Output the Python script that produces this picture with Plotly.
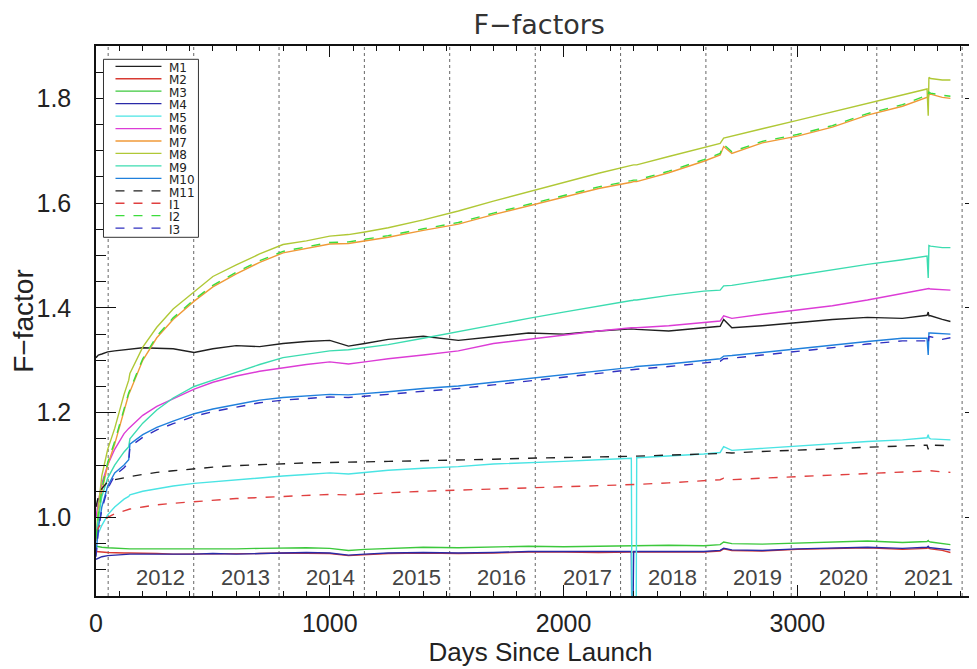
import plotly.graph_objects as go

# ---------------- data ----------------
days = [0, 10, 25, 50, 80, 120, 140, 145,
        200, 260, 330, 420, 500, 600, 700, 800, 900, 1000,
        1080, 1150, 1250, 1400, 1550, 1700, 1850, 2000, 2150,
        2290, 2294, 2300, 2310, 2313,
        2450, 2600, 2670, 2685, 2720, 2850, 3000, 3150, 3300, 3450,
        3555, 3560, 3563, 3570, 3620, 3655]

M1 = [1.305, 1.310, 1.312, 1.316, 1.318, 1.320, 1.322, 1.322,
      1.324, 1.323, 1.322, 1.315, 1.322, 1.328, 1.326, 1.332, 1.336, 1.338,
      1.327, 1.332, 1.340, 1.346, 1.338, 1.345, 1.352, 1.350, 1.356,
      1.360, 1.360, 1.360, 1.359, 1.359,
      1.356, 1.362, 1.365, 1.378, 1.362, 1.366, 1.372, 1.378, 1.382, 1.380,
      1.386, 1.392, 1.385, 1.385, 1.378, 1.374]
M2 = [0.935, 0.935, 0.934, 0.933, 0.932, 0.932, 0.932, 0.932,
      0.931, 0.931, 0.930, 0.930, 0.931, 0.930, 0.931, 0.932, 0.932, 0.931,
      0.927, 0.929, 0.931, 0.932, 0.931, 0.932, 0.934, 0.934, 0.933,
      0.934, 0.934, 0.934, 0.934, 0.934,
      0.935, 0.934, 0.936, 0.940, 0.937, 0.936, 0.939, 0.940, 0.942, 0.939,
      0.941, 0.943, 0.941, 0.940, 0.937, 0.933]
M3 = [0.945, 0.944, 0.943, 0.942, 0.941, 0.941, 0.940, 0.940,
      0.940, 0.940, 0.939, 0.939, 0.940, 0.940, 0.941, 0.942, 0.942, 0.941,
      0.937, 0.939, 0.941, 0.943, 0.942, 0.943, 0.945, 0.944, 0.945,
      0.946, 0.946, 0.946, 0.946, 0.946,
      0.947, 0.946, 0.948, 0.953, 0.950, 0.949, 0.951, 0.952, 0.955, 0.952,
      0.954, 0.956, 0.954, 0.953, 0.950, 0.948]
M4 = [0.920, 0.922, 0.925, 0.927, 0.928, 0.929, 0.929, 0.930,
      0.930, 0.930, 0.929, 0.930, 0.931, 0.930, 0.931, 0.932, 0.933, 0.932,
      0.928, 0.930, 0.932, 0.933, 0.932, 0.933, 0.935, 0.935, 0.935,
      0.935, 0.700, 0.935, 0.935, 0.935,
      0.936, 0.935, 0.937, 0.941, 0.938, 0.937, 0.940, 0.941, 0.943, 0.941,
      0.943, 0.945, 0.943, 0.942, 0.940, 0.938]
M5 = [0.955, 0.970, 0.985, 1.005, 1.020, 1.035, 1.040, 1.043,
      1.050, 1.055, 1.060, 1.065, 1.068, 1.072, 1.076, 1.079, 1.082, 1.085,
      1.083, 1.086, 1.090, 1.094, 1.097, 1.102, 1.104, 1.107, 1.110,
      1.113, 0.700, 0.700, 0.700, 1.114,
      1.117, 1.121, 1.124, 1.135, 1.128, 1.132, 1.136, 1.140, 1.145, 1.148,
      1.152, 1.158, 1.152, 1.150, 1.148, 1.148]
M6 = [1.000, 1.030, 1.065, 1.100, 1.130, 1.160, 1.170, 1.172,
      1.195, 1.212, 1.227, 1.245, 1.258, 1.270, 1.279, 1.286, 1.292, 1.297,
      1.293, 1.297, 1.303, 1.310, 1.318, 1.332, 1.340, 1.348, 1.356,
      1.362, 1.362, 1.362, 1.362, 1.362,
      1.366, 1.373, 1.375, 1.385, 1.380, 1.388, 1.396, 1.404, 1.415, 1.428,
      1.437, 1.438, 1.437, 1.436, 1.434, 1.434]
M7 = [0.955, 1.000, 1.050, 1.100, 1.140, 1.205, 1.235, 1.240,
      1.300, 1.343, 1.378, 1.413, 1.440, 1.465, 1.487, 1.505, 1.513, 1.522,
      1.523, 1.528, 1.535, 1.548, 1.560, 1.578, 1.595, 1.612, 1.628,
      1.640, 1.641, 1.641, 1.641, 1.641,
      1.658, 1.680, 1.692, 1.708, 1.695, 1.715, 1.728, 1.745, 1.768, 1.785,
      1.802, 1.800, 1.808, 1.808, 1.802, 1.800]
M8 = [0.960, 1.020, 1.080, 1.130, 1.170, 1.235, 1.262, 1.275,
      1.325, 1.363, 1.398, 1.430, 1.460, 1.482, 1.503, 1.521, 1.528, 1.537,
      1.540, 1.545, 1.553, 1.568, 1.585, 1.604, 1.622, 1.640, 1.657,
      1.672, 1.673, 1.673, 1.673, 1.673,
      1.689, 1.706, 1.714, 1.724, 1.728, 1.742, 1.758, 1.774, 1.790, 1.806,
      1.818, 1.767, 1.840, 1.838, 1.835, 1.835]
M9 = [0.960, 1.000, 1.040, 1.075, 1.100, 1.125, 1.135, 1.150,
      1.180, 1.205, 1.228, 1.250, 1.262, 1.277, 1.292, 1.305, 1.312, 1.318,
      1.320, 1.324, 1.330, 1.342, 1.355, 1.367, 1.380, 1.392, 1.404,
      1.414, 1.414, 1.415, 1.415, 1.415,
      1.424, 1.432, 1.434, 1.442, 1.443, 1.452, 1.463, 1.473, 1.483, 1.492,
      1.499, 1.457, 1.519, 1.518, 1.515, 1.515]
M10 = [0.930, 0.980, 1.020, 1.060, 1.085, 1.100, 1.110, 1.140,
       1.158, 1.172, 1.184, 1.198, 1.207, 1.216, 1.224, 1.229, 1.232, 1.235,
       1.234, 1.237, 1.240, 1.246, 1.251, 1.258, 1.265, 1.272, 1.280,
       1.287, 1.287, 1.287, 1.288, 1.288,
       1.293, 1.300, 1.303, 1.308, 1.309, 1.315, 1.322, 1.330, 1.336, 1.342,
       1.342, 1.310, 1.352, 1.352, 1.350, 1.350]
M11 = [1.020, 1.040, 1.055, 1.068, 1.072, 1.076, 1.078, 1.078,
       1.082, 1.086, 1.089, 1.093, 1.096, 1.099, 1.101, 1.103, 1.104, 1.105,
       1.105, 1.106, 1.107, 1.108, 1.110, 1.111, 1.113, 1.114, 1.116,
       1.117, 1.117, 1.117, 1.117, 1.117,
       1.119, 1.121, 1.122, 1.124, 1.123, 1.126, 1.128, 1.131, 1.134, 1.136,
       1.138, 1.130, 1.138, 1.138, 1.138, 1.137]
I1 = [0.970, 0.980, 0.990, 1.000, 1.007, 1.013, 1.015, 1.016,
      1.020, 1.024, 1.027, 1.030, 1.033, 1.036, 1.038, 1.040, 1.042, 1.044,
      1.043, 1.045, 1.047, 1.050, 1.052, 1.055, 1.056, 1.058, 1.061,
      1.063, 1.063, 1.063, 1.063, 1.063,
      1.066, 1.070, 1.072, 1.075, 1.072, 1.075, 1.078, 1.081, 1.085, 1.088,
      1.090, 1.090, 1.090, 1.089, 1.087, 1.086]
I2 = [0.960, 1.005, 1.055, 1.105, 1.145, 1.210, 1.238, 1.243,
      1.303, 1.346, 1.381, 1.416, 1.443, 1.468, 1.490, 1.508, 1.516, 1.525,
      1.526, 1.531, 1.538, 1.551, 1.563, 1.581, 1.598, 1.615, 1.631,
      1.643, 1.644, 1.644, 1.644, 1.644,
      1.661, 1.683, 1.695, 1.712, 1.698, 1.718, 1.731, 1.748, 1.771, 1.788,
      1.806, 1.804, 1.812, 1.810, 1.806, 1.804]
I3 = [0.925, 0.975, 1.015, 1.055, 1.080, 1.095, 1.105, 1.135,
      1.153, 1.167, 1.179, 1.193, 1.202, 1.211, 1.219, 1.224, 1.227, 1.230,
      1.229, 1.232, 1.235, 1.241, 1.246, 1.253, 1.260, 1.267, 1.275,
      1.282, 1.282, 1.282, 1.283, 1.283,
      1.288, 1.295, 1.298, 1.303, 1.304, 1.310, 1.317, 1.325, 1.331, 1.337,
      1.337, 1.330, 1.345, 1.345, 1.340, 1.343]

series_names = ["M1", "M2", "M3", "M4", "M5", "M6", "M7", "M8", "M9", "M10",
                "M11", "I1", "I2", "I3"]
series_values = [M1, M2, M3, M4, M5, M6, M7, M8, M9, M10, M11, I1, I2, I3]
series_colors = ["#202020", "#d83a32", "#3cc83c", "#2a2aa8", "#4ae4e4",
                 "#dc3cd6", "#f09a38", "#b0c836", "#3cdcb0", "#2080dc",
                 "#202020", "#e04040", "#3cdc3c", "#3030c0"]
series_dash = ["solid"] * 10 + ["dash"] * 4

year_starts = [52, 418, 783, 1148, 1513, 1879, 2244, 2609, 2974, 3340, 3705]
year_labels = ["2012", "2013", "2014", "2015", "2016", "2017", "2018",
               "2019", "2020", "2021"]

# ---------------- layout geometry ----------------
# the page body has an 8 px margin, so the figure starts at page (8, 8)
OFF = 8
W, H = 977, 669
PAGE_L, PAGE_T, PAGE_B = 95.5, 45.7, 595.7   # plot box in page pixels
ML = PAGE_L - OFF
MT = PAGE_T - OFF
MB = H - (PAGE_B - OFF)
MR = 0
PW, PH = W - ML - MR, H - MT - MB
X_MAX = PW / 0.2339
FONT = "Liberation Sans, Arial, sans-serif"
LEG_ROW = 12.45


def px(xp):
    """page x pixel -> paper fraction"""
    return (xp - PAGE_L) / PW


def py(yp):
    """page y pixel -> paper fraction"""
    return (PAGE_B - yp) / PH


fig = go.Figure()
for name, vals, color, dash in zip(series_names, series_values,
                                   series_colors, series_dash):
    fig.add_trace(go.Scatter(x=days, y=vals, mode="lines", name=name,
                             line=dict(color=color, width=1.4, dash=dash),
                             showlegend=False))

shapes = []
for d in year_starts:
    shapes.append(dict(type="line", xref="x", yref="paper", x0=d, x1=d,
                       y0=0, y1=1, layer="below",
                       line=dict(color="#666666", width=1, dash="dot")))

annotations = []
for lab, d in zip(year_labels, year_starts):
    annotations.append(dict(x=d + 222, y=0.885, xref="x", yref="y",
                            text=lab, showarrow=False,
                            font=dict(family=FONT, size=22, color="#444444")))

# compact legend box drawn in the IDL style
shapes.append(dict(type="rect", xref="paper", yref="paper",
                   x0=px(103), x1=px(198), y0=py(237), y1=py(59),
                   line=dict(color="#333333", width=1),
                   fillcolor="white", layer="above"))
for i, (color, dash) in enumerate(zip(series_colors, series_dash)):
    yy = 66 + LEG_ROW * i
    shapes.append(dict(type="line", xref="paper", yref="paper",
                       x0=px(115), x1=px(161), y0=py(yy), y1=py(yy),
                       layer="above",
                       line=dict(color=color, width=1.3, dash=dash)))
legend_text = "<br>".join('<span style="font-size:12px">%s</span>' % n
                          for n in series_names)
annotations.append(dict(x=px(167), y=py(66 - LEG_ROW / 2 - 1), xref="paper",
                        yref="paper", text=legend_text,
                        showarrow=False, xanchor="left", yanchor="top",
                        align="left",
                        font=dict(family="DejaVu Sans, sans-serif",
                                  size=LEG_ROW / 1.3, color="#222222")))

fig.update_layout(
    width=W, height=H,
    margin=dict(l=ML, r=MR, t=MT, b=MB, pad=0, autoexpand=False),
    paper_bgcolor="white", plot_bgcolor="white",
    title=dict(text="F\u2212factors", x=px(539), xref="paper",
               y=1 - (25 - OFF) / H, yref="container", xanchor="center",
               yanchor="middle",
               font=dict(family="DejaVu Sans, sans-serif", size=27,
                         color="#333333")),
    shapes=shapes, annotations=annotations,
    xaxis=dict(range=[0, X_MAX], showgrid=False, zeroline=False,
               automargin=False,
               showline=True, linecolor="#111111", linewidth=1.5,
               mirror="allticks", ticks="inside", ticklen=11, tickwidth=1,
               tickcolor="#111111", tick0=0, dtick=1000,
               minor=dict(dtick=100, ticklen=5, ticks="inside",
                          tickcolor="#111111", showgrid=False),
               tickfont=dict(family=FONT, size=25, color="#222222"),
               ticklabelstandoff=4,
               title=dict(text="Days Since Launch", standoff=2,
                          font=dict(family=FONT, size=26, color="#222222"))),
    yaxis=dict(range=[0.85, 1.90], showgrid=False, zeroline=False,
               automargin=False,
               showline=True, linecolor="#111111", linewidth=1.5,
               mirror="allticks", ticks="inside", ticklen=20, tickwidth=1,
               tickcolor="#111111", tick0=1.0, dtick=0.2, tickformat=".1f",
               minor=dict(dtick=0.05, ticklen=10, ticks="inside",
                          tickcolor="#111111", showgrid=False),
               tickfont=dict(family=FONT, size=25, color="#222222"),
               ticklabelstandoff=18,
               title=dict(text="F\u2212factor", standoff=0,
                          font=dict(family=FONT, size=28, color="#222222"))),
)

fig.write_html("out.html")
